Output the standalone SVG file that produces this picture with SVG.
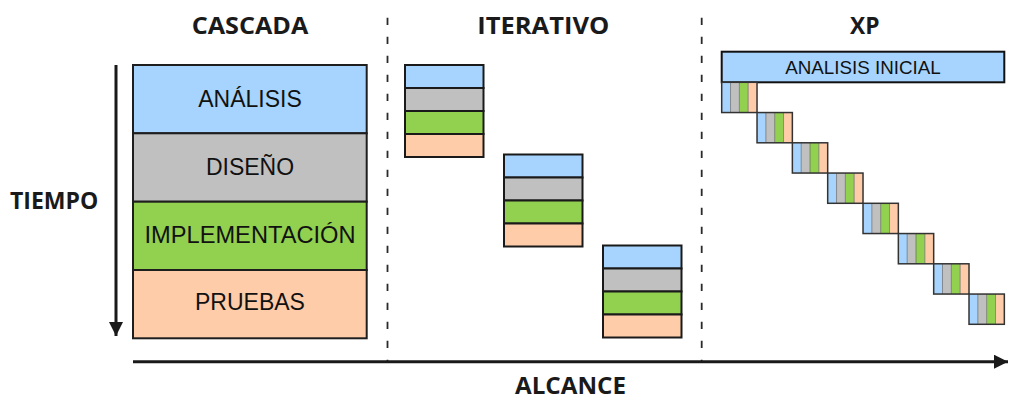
<svg xmlns="http://www.w3.org/2000/svg" width="1014" height="409" viewBox="0 0 1014 409">
  <style>
    .head { font-family: "Open Sans", "Liberation Sans", sans-serif; font-weight: 700; font-size: 23px; fill: #1a1a1a; }
    .lbl { font-family: "Liberation Sans", Arial, sans-serif; font-size: 23px; fill: #111; text-anchor: middle; }
    .blue { fill: #a6d4fe; }
    .gray { fill: #c0c0c0; }
    .green { fill: #92d050; }
    .peach { fill: #fecca9; }
    .box { stroke: #1e1e1e; stroke-width: 2; }
    .ibox { stroke: #1a1a1a; stroke-width: 2; }
    .xout { fill: none; stroke: #333; stroke-width: 1.5; }
    .dash { stroke: #2a2a2a; stroke-width: 1.8; stroke-dasharray: 7.3 11.7; fill: none; }
    .axis { stroke: #1a1a1a; stroke-width: 3; fill: none; }
  </style>
  <defs>
    <marker id="ah" viewBox="0 0 10 10" refX="10" refY="5" markerWidth="4.8" markerHeight="4.8" orient="auto" markerUnits="strokeWidth">
      <path d="M0,0 L10,5 L0,10 Z" fill="#1a1a1a"/>
    </marker>
    <g id="xblk">
      <rect x="0" y="0" width="8.83" height="30.25" class="blue"/>
      <rect x="8.83" y="0" width="8.83" height="30.25" class="gray"/>
      <rect x="17.66" y="0" width="8.83" height="30.25" class="green"/>
      <rect x="26.5" y="0" width="8.83" height="30.25" class="peach"/>
      <line x1="8.83" y1="0" x2="8.83" y2="30.25" stroke="#555" stroke-width="0.6"/>
      <line x1="17.66" y1="0" x2="17.66" y2="30.25" stroke="#555" stroke-width="0.6"/>
      <line x1="26.5" y1="0" x2="26.5" y2="30.25" stroke="#555" stroke-width="0.6"/>
      <rect x="0" y="0" width="35.33" height="30.25" class="xout"/>
    </g>
    <g id="iblk">
      <rect x="0" y="0" width="78.5" height="23" class="blue ibox"/>
      <rect x="0" y="23" width="78.5" height="23" class="gray ibox"/>
      <rect x="0" y="46" width="78.5" height="23" class="green ibox"/>
      <rect x="0" y="69" width="78.5" height="23" class="peach ibox"/>
    </g>
  </defs>

  <rect width="1014" height="409" fill="#ffffff"/>

  <!-- headings -->
  <g id="headings">
    <text class="head" x="191.7" y="34" textLength="116.6" lengthAdjust="spacingAndGlyphs">CASCADA</text>
    <text class="head" x="477.3" y="33.5" textLength="132" lengthAdjust="spacingAndGlyphs">ITERATIVO</text>
    <text class="head" x="850" y="34" textLength="29.5" lengthAdjust="spacingAndGlyphs">XP</text>
    <text class="head" x="10" y="209.3" textLength="88.3" lengthAdjust="spacingAndGlyphs">TIEMPO</text>
    <text class="head" x="515" y="394" textLength="111" lengthAdjust="spacingAndGlyphs">ALCANCE</text>
  </g>

  <!-- connectors / axes -->
  <g id="connectors">
    <line class="dash" x1="387.5" y1="17.7" x2="387.5" y2="361"/>
    <line class="dash" x1="701.7" y1="17.7" x2="701.7" y2="361"/>
    <line class="axis" x1="116" y1="65" x2="116" y2="336" marker-end="url(#ah)"/>
    <line class="axis" x1="133" y1="361.7" x2="1008" y2="361.7" marker-end="url(#ah)"/>
  </g>

  <!-- Cascada -->
  <g id="cascada-analisis">
    <rect x="133" y="65" width="233.7" height="68.3" class="blue box"/>
    <text class="lbl" x="250" y="106.7">ANÁLISIS</text>
  </g>
  <g id="cascada-diseno">
    <rect x="133" y="133.3" width="233.7" height="68.4" class="gray box"/>
    <text class="lbl" x="250" y="175">DISEÑO</text>
  </g>
  <g id="cascada-implementacion">
    <rect x="133" y="201.7" width="233.7" height="68.3" class="green box"/>
    <text class="lbl" x="250" y="243.3" textLength="211" lengthAdjust="spacingAndGlyphs">IMPLEMENTACIÓN</text>
  </g>
  <g id="cascada-pruebas">
    <rect x="133" y="270" width="233.7" height="68.3" class="peach box"/>
    <text class="lbl" x="250" y="310">PRUEBAS</text>
  </g>

  <!-- Iterativo -->
  <g id="iter-1"><use href="#iblk" x="405" y="65"/></g>
  <g id="iter-2"><use href="#iblk" x="504" y="154.5"/></g>
  <g id="iter-3"><use href="#iblk" x="603" y="245.5"/></g>

  <!-- XP -->
  <g id="xp-analisis-inicial">
    <rect x="721.7" y="51.7" width="282.6" height="30.6" class="blue" stroke="#111" stroke-width="2"/>
    <text x="863" y="74" font-family="Liberation Sans, Arial, sans-serif" font-size="18.8" fill="#111" text-anchor="middle">ANALISIS INICIAL</text>
  </g>
  <g id="xp-iter-1"><use href="#xblk" x="721.7" y="82.3"/></g>
  <g id="xp-iter-2"><use href="#xblk" x="757.03" y="112.55"/></g>
  <g id="xp-iter-3"><use href="#xblk" x="792.36" y="142.8"/></g>
  <g id="xp-iter-4"><use href="#xblk" x="827.69" y="173.05"/></g>
  <g id="xp-iter-5"><use href="#xblk" x="863.02" y="203.3"/></g>
  <g id="xp-iter-6"><use href="#xblk" x="898.35" y="233.55"/></g>
  <g id="xp-iter-7"><use href="#xblk" x="933.68" y="263.8"/></g>
  <g id="xp-iter-8"><use href="#xblk" x="969.01" y="294.05"/></g>
</svg>
